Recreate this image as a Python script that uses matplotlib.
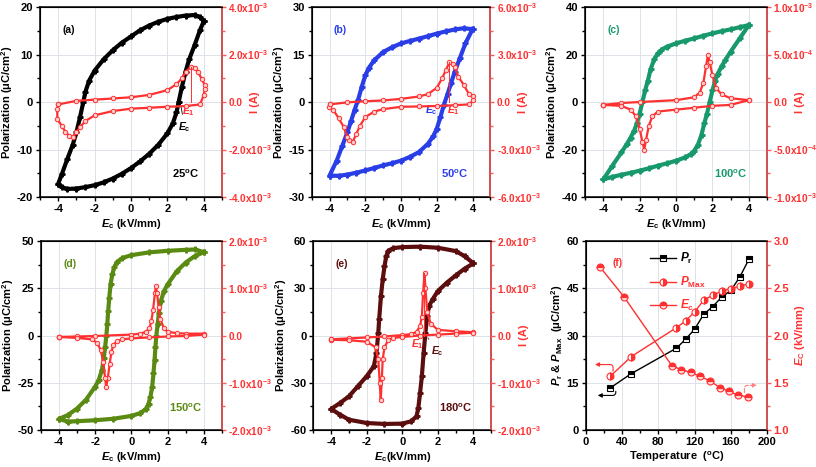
import numpy as np
import matplotlib
matplotlib.use('Agg')
from matplotlib import pyplot as plt
from matplotlib.ticker import MultipleLocator, AutoMinorLocator, FuncFormatter

plt.rcParams['font.family'] = ['Liberation Sans', 'DejaVu Sans']
plt.rcParams['font.weight'] = 'bold'
plt.rcParams['axes.labelweight'] = 'bold'
plt.rcParams['axes.unicode_minus'] = False
plt.rcParams['mathtext.fontset'] = 'custom'
plt.rcParams['mathtext.rm'] = 'Liberation Sans:bold'
plt.rcParams['mathtext.it'] = 'Liberation Sans:bold:italic'
plt.rcParams['mathtext.bf'] = 'Liberation Sans:bold'

RED = '#ff3030'
SPINE_RED = '#ff5a5a'

# ---- (a) 25 C ----
a_E_top = [4.0, 3.8, 3.5, 3.0, 2.5, 2.0, 1.5, 1.0, 0.5, 0.0, -0.5, -1.0, -1.5, -2.0, -2.3, -2.5, -2.62, -2.8, -3.0, -3.2, -3.5, -3.8, -4.0]
a_P_top = [17.0, 17.9, 18.3, 18.2, 17.9, 17.5, 16.9, 16.1, 15.1, 13.8, 12.5, 10.9, 9.0, 6.6, 4.5, 2.2, 0.0, -3.2, -6.4, -9.0, -12.0, -15.2, -17.2]
a_E_bot = [-4.0, -3.8, -3.5, -3.0, -2.5, -2.0, -1.5, -1.0, -0.5, 0.0, 0.5, 1.0, 1.5, 2.0, 2.3, 2.5, 2.62, 2.8, 3.0, 3.2, 3.5, 3.8, 4.0]
a_P_bot = [-17.2, -17.9, -18.3, -18.2, -17.9, -17.5, -16.9, -16.1, -15.1, -13.9, -12.5, -10.9, -9.0, -6.6, -4.5, -2.2, 0.0, 3.2, 6.4, 9.0, 12.0, 15.2, 17.0]
# current in mA
a_E_fwd = [-4.0, -3.0, -2.0, -1.0, 0.0, 1.0, 2.0, 2.5, 2.8, 3.0, 3.3, 3.5, 3.7, 3.9, 4.05]
a_I_fwd = [-0.1, 0.05, 0.1, 0.15, 0.2, 0.3, 0.5, 0.75, 1.0, 1.27, 1.48, 1.42, 1.25, 0.95, 0.72]
a_E_rev = [4.05, 4.0, 3.8, 3.0, 2.0, 1.0, 0.0, -1.0, -2.0, -2.5, -2.8, -3.0, -3.2, -3.4, -3.6, -3.8, -4.05, -4.05]
a_I_rev = [0.55, 0.3, -0.1, -0.17, -0.2, -0.24, -0.28, -0.38, -0.56, -0.8, -1.05, -1.27, -1.48, -1.42, -1.25, -1.0, -0.72, -0.3]

# ---- (b) 50 C ----
b_E_top = [4.0, 3.5, 3.0, 2.5, 2.0, 1.5, 1.0, 0.5, 0.0, -0.5, -1.0, -1.5, -1.8, -2.0, -2.2, -2.4, -2.6, -2.8, -3.0, -3.3, -3.6, -4.0]
b_P_top = [23.0, 23.3, 22.9, 22.3, 21.6, 20.8, 20.0, 19.3, 18.5, 17.3, 15.8, 13.2, 10.8, 8.4, 4.8, 0.8, -2.5, -6.0, -9.5, -14.0, -18.5, -23.2]
b_E_bot = [-4.0, -3.5, -3.0, -2.5, -2.0, -1.5, -1.0, -0.5, 0.0, 0.5, 1.0, 1.5, 1.8, 2.0, 2.2, 2.4, 2.6, 2.8, 3.0, 3.3, 3.6, 4.0]
b_P_bot = [-23.2, -23.3, -22.9, -22.3, -21.6, -20.8, -20.0, -19.3, -18.5, -17.3, -15.8, -13.2, -10.8, -8.4, -4.8, -0.8, 2.5, 6.0, 9.5, 14.0, 18.5, 23.0]
b_E_fwd = [-4.0, -3.0, -2.0, -1.0, 0.0, 1.0, 1.5, 2.0, 2.3, 2.5, 2.7, 2.9, 3.0, 3.2, 3.5, 3.8, 4.05]
b_I_fwd = [-0.15, -0.02, 0.05, 0.1, 0.2, 0.35, 0.5, 0.9, 1.5, 2.0, 2.5, 2.4, 2.2, 1.6, 1.1, 0.5, 0.35]
b_E_rev = [4.05, 3.8, 3.0, 2.0, 1.0, 0.0, -1.0, -1.5, -2.0, -2.3, -2.5, -2.7, -2.9, -3.0, -3.2, -3.5, -3.8, -4.05]
b_I_rev = [0.1, -0.15, -0.2, -0.25, -0.28, -0.3, -0.45, -0.6, -0.95, -1.5, -2.0, -2.5, -2.4, -2.2, -1.6, -1.0, -0.5, -0.3]

# ---- (c) 100 C ----
c_E_top = [4.0, 3.5, 3.0, 2.5, 2.0, 1.5, 1.0, 0.5, 0.0, -0.5, -0.8, -1.0, -1.2, -1.4, -1.55, -1.7, -1.85, -2.0, -2.15, -2.3, -2.5, -2.7, -3.0, -3.5, -4.0]
c_P_top = [32.4, 31.5, 30.6, 29.8, 28.9, 27.9, 26.8, 25.8, 24.7, 23.3, 22.0, 20.5, 18.0, 13.8, 9.0, 4.9, 0.0, -4.9, -9.0, -12.0, -15.0, -17.6, -21.2, -26.8, -32.6]
c_E_bot = [-4.0, -3.5, -3.0, -2.5, -2.0, -1.5, -1.0, -0.5, 0.0, 0.5, 0.8, 1.0, 1.2, 1.4, 1.55, 1.7, 1.85, 2.0, 2.15, 2.3, 2.5, 2.7, 3.0, 3.5, 4.0]
c_P_bot = [-32.6, -31.5, -30.6, -29.8, -28.9, -27.9, -26.8, -25.8, -24.7, -23.3, -22.0, -20.5, -18.0, -13.8, -9.0, -4.9, 0.0, 4.9, 9.0, 12.0, 15.0, 17.6, 21.2, 26.8, 32.4]
c_E_fwd = [-4.0, -3.0, -2.0, 0.0, 1.0, 1.3, 1.5, 1.65, 1.75, 1.85, 2.0, 2.2, 2.5, 3.0, 4.0]
c_I_fwd = [-0.03, -0.01, 0.0, 0.02, 0.05, 0.1, 0.2, 0.38, 0.49, 0.42, 0.28, 0.15, 0.08, 0.04, 0.02]
c_E_rev = [4.0, 3.0, 2.0, 1.0, 0.0, -1.0, -1.3, -1.5, -1.65, -1.75, -1.85, -2.0, -2.2, -2.5, -3.0, -4.0]
c_I_rev = [0.02, -0.03, -0.04, -0.06, -0.08, -0.1, -0.15, -0.25, -0.4, -0.5, -0.42, -0.28, -0.15, -0.08, -0.04, -0.03]

# ---- (d) 150 C ----
d_E_top = [4.0, 3.5, 3.0, 2.0, 1.0, 0.0, -0.5, -0.8, -0.95, -1.05, -1.15, -1.22, -1.28, -1.33, -1.38, -1.45, -1.52, -1.62, -1.8, -2.0, -2.5, -3.0, -3.5, -4.0]
d_P_top = [44.1, 45.5, 45.3, 44.8, 44.0, 42.5, 41.0, 38.8, 36.0, 32.5, 27.0, 20.0, 13.0, 6.0, 0.0, -6.0, -12.0, -18.0, -23.5, -27.0, -33.9, -38.6, -42.0, -44.1]
d_E_bot = [-4.0, -3.5, -3.0, -2.0, -1.0, 0.0, 0.5, 0.8, 0.95, 1.05, 1.15, 1.22, 1.28, 1.33, 1.38, 1.45, 1.52, 1.62, 1.8, 2.0, 2.5, 3.0, 3.5, 4.0]
d_P_bot = [-44.1, -45.5, -45.3, -44.8, -44.0, -42.5, -41.0, -38.8, -36.0, -32.5, -27.0, -20.0, -13.0, -6.0, 0.0, 6.0, 12.0, 18.0, 23.5, 27.0, 33.9, 38.6, 42.0, 44.1]
d_E_fwd = [-4.0, -3.0, -2.0, 0.0, 0.5, 0.8, 1.0, 1.1, 1.2, 1.3, 1.35, 1.42, 1.5, 1.6, 1.8, 2.0, 2.5, 3.0, 4.0]
d_I_fwd = [-0.03, -0.02, -0.01, 0.02, 0.04, 0.08, 0.15, 0.3, 0.55, 0.9, 1.04, 0.9, 0.6, 0.35, 0.15, 0.08, 0.05, 0.04, 0.04]
d_E_rev = [4.0, 3.0, 2.0, 1.0, 0.0, -0.5, -0.8, -1.0, -1.1, -1.2, -1.3, -1.39, -1.45, -1.55, -1.7, -1.9, -2.2, -3.0, -4.0]
d_I_rev = [0.02, -0.01, -0.02, -0.04, -0.06, -0.08, -0.12, -0.2, -0.35, -0.6, -0.9, -1.09, -0.9, -0.55, -0.3, -0.15, -0.08, -0.05, -0.03]

# ---- (e) 180 C ----
e_E_top = [4.0, 3.5, 3.0, 2.0, 1.0, 0.0, -0.5, -0.8, -0.9, -1.0, -1.1, -1.2, -1.3, -1.35, -1.45, -1.6, -2.0, -2.5, -3.0, -3.5, -4.0]
e_P_top = [45.8, 50.4, 53.6, 55.7, 56.4, 56.1, 55.5, 53.6, 50.4, 44.0, 35.6, 25.0, 10.2, 1.7, -11.0, -19.5, -25.8, -32.2, -38.6, -42.8, -46.6]
e_E_bot = [-4.0, -3.5, -3.0, -2.0, -1.0, 0.0, 0.5, 0.8, 0.9, 1.0, 1.1, 1.2, 1.3, 1.4, 1.5, 1.7, 2.0, 2.5, 3.0, 3.5, 4.0]
e_P_bot = [-46.6, -50.2, -53.4, -55.5, -56.1, -55.9, -54.4, -51.3, -46.0, -36.4, -25.8, -11.0, 1.7, 12.3, 18.6, 22.9, 28.2, 33.5, 38.1, 42.4, 45.8]
e_E_fwd = [-4.0, -3.0, -2.0, -1.0, 0.0, 0.5, 0.8, 1.0, 1.1, 1.17, 1.25, 1.3, 1.4, 1.6, 2.0, 3.0, 4.0]
e_I_fwd = [-0.08, -0.06, -0.04, -0.02, 0.01, 0.03, 0.08, 0.2, 0.4, 0.9, 1.33, 1.0, 0.5, 0.25, 0.12, 0.09, 0.07]
e_E_rev = [4.0, 3.0, 2.0, 1.0, 0.0, -0.5, -0.8, -1.0, -1.1, -1.15, -1.21, -1.27, -1.35, -1.5, -2.0, -3.0, -4.0]
e_I_rev = [0.06, 0.04, 0.02, 0.0, -0.03, -0.05, -0.1, -0.25, -0.5, -0.9, -1.36, -1.0, -0.5, -0.25, -0.13, -0.1, -0.09]

# ---- (f) temperature dependence ----
temp_p = [27, 50, 100, 110, 120, 130, 140, 150, 160, 170, 180]
pr = [13.4, 17.9, 26.0, 28.8, 32.0, 36.7, 39.2, 42.2, 44.3, 48.6, 54.2]
pmax = [17.1, 23.3, 32.5, 34.6, 37.5, 41.2, 42.8, 44.1, 44.9, 45.7, 46.4]
temp_ec = [16, 42, 95, 105, 116, 126, 137, 148, 158, 168, 179]
ec = [2.72, 2.41, 1.68, 1.64, 1.61, 1.57, 1.52, 1.45, 1.41, 1.37, 1.35]


def sci_fmt(v, pos):
    if abs(v) < 1e-12:
        return '0.0'
    e = int(np.floor(np.log10(abs(v)) + 1e-9))
    return '%.1fx10$^{%d}$' % (v / 10 ** e, e)


def style_axes(ax, ax2, rsize=8):
    for s in ax.spines.values():
        s.set_linewidth(1.1)
    ax2.spines['right'].set_color(SPINE_RED)
    ax2.spines['right'].set_linewidth(1.1)
    ax.tick_params(which='both', direction='out', labelsize=8, width=1, pad=2)
    ax.tick_params(which='major', length=3)
    ax.tick_params(which='minor', length=2)
    ax2.tick_params(which='both', direction='out', labelsize=rsize, color=SPINE_RED,
                    labelcolor=RED, width=1, pad=1.5)
    ax2.tick_params(which='major', length=3)
    ax2.tick_params(which='minor', length=2)
    ax.xaxis.set_minor_locator(AutoMinorLocator(2))
    ax.yaxis.set_minor_locator(AutoMinorLocator(2))
    ax2.yaxis.set_minor_locator(AutoMinorLocator(2))
    ax.grid(True, color='#dde3ea', lw=0.7)
    ax.set_axisbelow(True)


def loop_panel(rect, col, Et, Pt, Eb, Pb, Ef, If, Er, Ir, plim, ilim, tag, temp, xlab, ilabel=True):
    ax = fig.add_axes(rect)
    ax2 = ax.twinx()
    ax.plot(Et + Eb, Pt + Pb, color=col, lw=3, marker='P', ms=3.5, zorder=3)
    ax2.plot(Ef + Er + Ef[:1], np.array(If + Ir + If[:1]) * 1e-3, color=RED, lw=1.6,
             marker='o', ms=3.2, mfc='#ffd0d0', mec=RED, mew=0.7)
    ax.set_xlim(-5, 5)
    ax.set_ylim(-plim, plim)
    ax2.set_ylim(-ilim, ilim)
    ax.xaxis.set_major_locator(MultipleLocator(2))
    ax.yaxis.set_major_locator(MultipleLocator(plim / 2))
    ax2.yaxis.set_major_locator(MultipleLocator(ilim / 2))
    ax2.yaxis.set_major_formatter(FuncFormatter(sci_fmt))
    style_axes(ax, ax2, rsize=7.2)
    ax.set_xlabel(xlab, fontsize=8, labelpad=2)
    ax.set_ylabel('Polarization (\u03bcC/cm$^2$)', fontsize=8, labelpad=1)
    if ilabel:
        ax2.set_ylabel('I (A)', fontsize=8, color=RED)
        ax2.yaxis.set_label_coords(1.0 + 28.0 / (rect[2] * 816), 0.5)
    ax.text(-3.4, plim * 0.76, tag, color=col, fontsize=7.5, ha='center', va='center')
    ax.text(3.0, -plim * 0.76, temp, color=col, fontsize=8, ha='center', va='center')
    return ax, ax2


fig = plt.figure(figsize=(8.16, 4.67), dpi=100)
xl = '$E_\\mathrm{c}$ (kV/mm)'

ax_a, ax_a2 = loop_panel([0.049, 0.578, 0.223, 0.407], 'black', a_E_top, a_P_top, a_E_bot, a_P_bot,
                         a_E_fwd, a_I_fwd, a_E_rev, a_I_rev, 20, 4e-3, '(a)', '25$^\\mathrm{o}$C', xl)
ax_a2.plot([3.3, 3.3], [0, 1.48e-3], color=RED, lw=0.7)
ax_a.text(3.15, -1.9, '$E_1$', color=RED, fontsize=7.5, ha='center', va='center')
ax_a.annotate('$E_\\mathrm{c}$', xy=(2.72, -0.3), xytext=(2.95, -5.2), fontsize=7.5,
              ha='center', va='center', arrowprops=dict(arrowstyle='-', lw=0.6, color='black'))

ax_b, ax_b2 = loop_panel([0.382, 0.578, 0.219, 0.407], '#2a3ee8', b_E_top, b_P_top, b_E_bot, b_P_bot,
                         b_E_fwd, b_I_fwd, b_E_rev, b_I_rev, 30, 6e-3, '(b)', '50$^\\mathrm{o}$C', xl)
ax_b2.plot([2.7, 2.7], [0, 2.5e-3], color=RED, lw=0.7)
ax_b.text(1.7, -2.6, '$E_\\mathrm{c}$', color='#2a3ee8', fontsize=7.5, ha='center', va='center')
ax_b.text(2.95, -2.6, '$E_1$', color=RED, fontsize=7.5, ha='center', va='center')

ax_c, ax_c2 = loop_panel([0.717, 0.578, 0.223, 0.407], '#17996b', c_E_top, c_P_top, c_E_bot, c_P_bot,
                         c_E_fwd, c_I_fwd, c_E_rev, c_I_rev, 40, 1e-3, '(c)', '100$^\\mathrm{o}$C', xl)

ax_d, ax_d2 = loop_panel([0.050, 0.079, 0.222, 0.405], '#5b8a12', d_E_top, d_P_top, d_E_bot, d_P_bot,
                         d_E_fwd, d_I_fwd, d_E_rev, d_I_rev, 50, 2e-3, '(d)', '150$^\\mathrm{o}$C', xl,
                         ilabel=False)

ax_e, ax_e2 = loop_panel([0.384, 0.079, 0.218, 0.405], '#5c0d0d', e_E_top, e_P_top, e_E_bot, e_P_bot,
                         e_E_fwd, e_I_fwd, e_E_rev, e_I_rev, 60, 2e-3, '(e)', '180$^\\mathrm{o}$C',
                         '$E_\\mathrm{c}$(kV/mm)')
ax_e2.plot([1.22, 1.22], [0, 1.33e-3], color=RED, lw=0.7)
ax_e.text(0.85, -5.7, '$E_1$', color=RED, fontsize=7.5, ha='center', va='center')
ax_e.annotate('$E_\\mathrm{c}$', xy=(1.35, 0), xytext=(1.95, -10), fontsize=7.5, color='#5c0d0d',
              ha='center', va='center', arrowprops=dict(arrowstyle='-', lw=0.6, color='#5c0d0d'))

# ---- panel f ----
ax_f = fig.add_axes([0.718, 0.079, 0.222, 0.405])
ax_f2 = ax_f.twinx()
l1, = ax_f.plot(temp_p, pr, color='black', lw=1, marker='s', ms=5, fillstyle='top',
                mfc='black', mfcalt='white', mec='black', mew=0.8, label='$P_\\mathrm{r}$')
l2, = ax_f.plot(temp_p, pmax, color=RED, lw=1, marker='o', ms=5, fillstyle='right',
                mfc=RED, mfcalt='white', mec=RED, mew=0.8, label='$P_\\mathrm{Max}$')
l3, = ax_f2.plot(temp_ec, ec, color=RED, lw=1, marker='o', ms=5, fillstyle='top',
                 mfc=RED, mfcalt='#ffd8d8', mec=RED, mew=0.8, label='$E_\\mathrm{c}$')
ax_f.set_xlim(0, 200)
ax_f.set_ylim(0, 60)
ax_f2.set_ylim(1.0, 3.0)
ax_f.xaxis.set_major_locator(MultipleLocator(40))
ax_f.yaxis.set_major_locator(MultipleLocator(15))
ax_f2.yaxis.set_major_locator(MultipleLocator(0.5))
style_axes(ax_f, ax_f2)
ax_f.set_xlabel('Temperature  ($^\\mathrm{o}$C)', fontsize=8, labelpad=2)
ax_f.set_ylabel('$P_\\mathrm{r}$ & $P_\\mathrm{Max}$  (\u03bcC/cm$^2$)', fontsize=8, labelpad=1)
ax_f2.set_ylabel('$E_\\mathrm{C}$ (kV/mm)', fontsize=8, color=RED, labelpad=3)
ax_f.text(35, 53, '(f)', color=RED, fontsize=7.5, ha='center', va='center')
leg = ax_f.legend(handles=[l1, l2, l3], loc='upper left', bbox_to_anchor=(0.33, 0.97), frameon=False,
                  fontsize=8.5, handlelength=2.2, labelspacing=0.7, borderaxespad=0, handletextpad=0.3)
for t, c in zip(leg.get_texts(), ['black', RED, RED]):
    t.set_color(c)
ax_f.annotate('', xy=(7, 20.8), xytext=(30, 17.8),
              arrowprops=dict(arrowstyle='-|>', color=RED, lw=0.8, mutation_scale=6,
                              connectionstyle='angle,angleA=90,angleB=0,rad=3'))
ax_f.annotate('', xy=(10, 11.0), xytext=(33, 13.2),
              arrowprops=dict(arrowstyle='-|>', color='black', lw=0.8, mutation_scale=6,
                              connectionstyle='angle,angleA=-90,angleB=0,rad=3'))
ax_f.annotate('', xy=(192, 14.2), xytext=(175, 11.0),
              arrowprops=dict(arrowstyle='-|>', color='#ff8080', lw=0.8, ls='--', mutation_scale=6,
                              connectionstyle='angle,angleA=90,angleB=0,rad=3'))

fig.savefig('out.png', dpi=100)
